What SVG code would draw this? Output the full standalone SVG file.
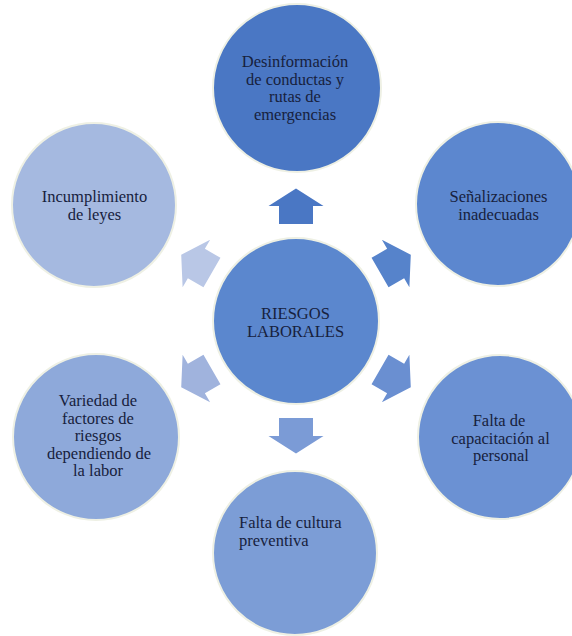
<svg xmlns="http://www.w3.org/2000/svg" width="572" height="636" viewBox="0 0 572 636">
<style>
.c{stroke:#eef0e4;stroke-width:2}
.t{font-family:"Liberation Serif","Times New Roman",serif;font-size:16.5px;fill:#17213d;text-anchor:middle}
.tl{text-anchor:start}
</style>
<defs>
<path id="arr" d="M0,-18 L27.5,-0.5 L17,-0.5 L17,17.5 L-17,17.5 L-17,-0.5 L-27.5,-0.5 Z"/>
</defs>
<rect width="572" height="636" fill="#ffffff"/>
<g id="connectors">
<use href="#arr" fill="#4a77c4" transform="translate(296,206.5)"/>
<use href="#arr" fill="#5683cb" transform="translate(395.2,263.8) rotate(60)"/>
<use href="#arr" fill="#6a8fd1" transform="translate(395.2,378.2) rotate(120)"/>
<use href="#arr" fill="#7b9bd6" transform="translate(296,435.5) rotate(180)"/>
<use href="#arr" fill="#a0b3dd" transform="translate(196.8,378.2) rotate(240)"/>
<use href="#arr" fill="#b9c7e6" transform="translate(196.8,263.8) rotate(300)"/>
</g>
<g id="center">
<circle class="c" cx="296" cy="321" r="83" fill="#5b87ce"/>
<text class="t" x="295.5" y="319">RIESGOS</text>
<text class="t" x="295.5" y="337">LABORALES</text>
</g>
<g id="n-desinformacion">
<circle class="c" cx="297" cy="88" r="84" fill="#4a77c4"/>
<text class="t" x="295" y="67">Desinformación</text>
<text class="t" x="295" y="84.5">de conductas y</text>
<text class="t" x="295" y="102">rutas de</text>
<text class="t" x="295" y="119.5">emergencias</text>
</g>
<g id="n-senalizaciones">
<circle class="c" cx="498" cy="204" r="82" fill="#5c87cf"/>
<text class="t" x="498.5" y="202">Señalizaciones</text>
<text class="t" x="498.5" y="219.5">inadecuadas</text>
</g>
<g id="n-capacitacion">
<circle class="c" cx="500" cy="437" r="82" fill="#6b91d3"/>
<text class="t" x="499" y="426">Falta de</text>
<text class="t" x="500.5" y="443.5">capacitación al</text>
<text class="t" x="501" y="461">personal</text>
</g>
<g id="n-cultura">
<circle class="c" cx="295" cy="553" r="82" fill="#7c9dd6"/>
<text class="t tl" x="239" y="528">Falta de cultura</text>
<text class="t tl" x="239" y="545.5">preventiva</text>
</g>
<g id="n-variedad">
<circle class="c" cx="96" cy="437" r="83" fill="#8ea9da"/>
<text class="t" x="98" y="406">Variedad de</text>
<text class="t" x="98" y="423.5">factores de</text>
<text class="t" x="98" y="441">riesgos</text>
<text class="t" x="99" y="458.5">dependiendo de</text>
<text class="t" x="98" y="476">la labor</text>
</g>
<g id="n-incumplimiento">
<circle class="c" cx="94" cy="205" r="82" fill="#a5b9e0"/>
<text class="t" x="94.5" y="202">Incumplimiento</text>
<text class="t" x="94.5" y="219.5">de leyes</text>
</g>
</svg>
